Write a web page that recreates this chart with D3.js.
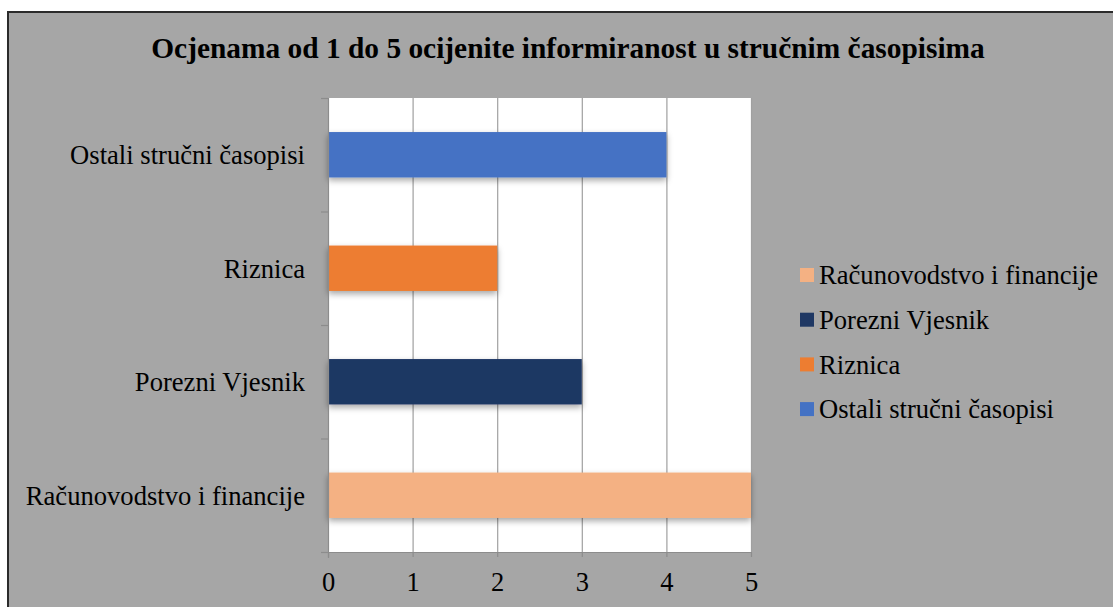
<!DOCTYPE html>
<html><head><meta charset="utf-8">
<script src="https://cdn.jsdelivr.net/npm/d3@7"></script>
<style>html,body{margin:0;padding:0;background:#fff;}svg{display:block;}</style>
</head><body>
<svg id="c" width="1113" height="607"></svg>
<script>
const title = "Ocjenama od 1 do 5 ocijenite informiranost u stručnim časopisima";
const categories = ["Računovodstvo i financije", "Porezni Vjesnik", "Riznica", "Ostali stručni časopisi"];
const values = [5, 3, 2, 4];
const colors = ["#F4B183", "#1F3864", "#ED7D31", "#4472C4"];
const xTicks = [0, 1, 2, 3, 4, 5];

const svg = d3.select("#c");
const font = "'Liberation Serif','Times New Roman',serif";

svg.append("rect").attr("x", 8).attr("y", 12).attr("width", 1120).attr("height", 600)
  .attr("fill", "#A6A6A6").attr("stroke", "#2b2b2b").attr("stroke-width", 2);

const defs = svg.append("defs");
const f = defs.append("filter").attr("id", "sh").attr("x", "-10%").attr("y", "-30%").attr("width", "130%").attr("height", "180%");
f.append("feDropShadow").attr("dx", 0).attr("dy", 3).attr("stdDeviation", 3).attr("flood-color", "#000").attr("flood-opacity", 0.35);

const m = {left: 328, top: 98, right: 751, bottom: 552};
const x = d3.scaleLinear().domain([0, 5]).range([m.left, m.right]);
const y = d3.scaleBand().domain(categories.slice().reverse()).range([m.top, m.bottom]).paddingInner(0.6).paddingOuter(0.3);

svg.append("rect").attr("x", m.left).attr("y", m.top).attr("width", m.right - m.left).attr("height", m.bottom - m.top).attr("fill", "#fff");

// grid
svg.append("g").selectAll("line").data(xTicks.slice(1)).join("line")
  .attr("x1", d => x(d) + 0.5).attr("x2", d => x(d) + 0.5).attr("y1", m.top).attr("y2", m.bottom)
  .attr("stroke", "#A0A0A0").attr("stroke-width", 1.2);

// bars
svg.append("g").selectAll("rect").data(categories).join("rect")
  .attr("x", x(0)).attr("y", d => y(d)).attr("height", y.bandwidth())
  .attr("width", (d, i) => x(values[i]) - x(0))
  .attr("fill", (d, i) => colors[i]).attr("filter", "url(#sh)");

// y axis line and ticks
const yb = d3.scaleLinear().domain([0, 4]).range([m.top, m.bottom]);
svg.append("line").attr("x1", m.left + 0.5).attr("x2", m.left + 0.5).attr("y1", m.top).attr("y2", m.bottom + 6).attr("stroke", "#8c8c8c").attr("stroke-width", 1.2);
svg.append("g").selectAll("line").data(d3.range(5)).join("line")
  .attr("x1", m.left - 7).attr("x2", m.left).attr("y1", d => yb(d) + 0.5).attr("y2", d => yb(d) + 0.5)
  .attr("stroke", "#8c8c8c").attr("stroke-width", 1.2);

// x axis
const xa = svg.append("g").attr("transform", `translate(0,${m.bottom})`)
  .call(d3.axisBottom(x).tickValues(xTicks).tickFormat(d3.format("d")).tickSize(5).tickSizeOuter(0).tickPadding(15));
xa.select(".domain").attr("stroke", "#8c8c8c").attr("stroke-width", 1.2);
xa.selectAll(".tick line").attr("stroke", "#8c8c8c").attr("stroke-width", 1.2);
xa.selectAll("text").attr("font-family", font).attr("font-size", 26.5).attr("fill", "#000");

// category labels
svg.append("g").selectAll("text").data(categories).join("text")
  .attr("x", 305).attr("y", d => y(d) + y.bandwidth() / 2).attr("dy", "0.35em")
  .attr("text-anchor", "end").attr("font-family", font).attr("font-size", 26.6).attr("fill", "#000")
  .text(d => d);

// title
svg.append("text").attr("x", 568).attr("y", 58).attr("text-anchor", "middle")
  .attr("font-family", font).attr("font-weight", "bold").attr("font-size", 29.4).attr("fill", "#000").text(title);

// legend
const lg = svg.append("g").selectAll("g").data(categories).join("g")
  .attr("transform", (d, i) => `translate(800,${275 + i * 44.7})`);
lg.append("rect").attr("x", 0).attr("y", -7).attr("width", 14).attr("height", 14).attr("fill", (d, i) => colors[i]);
lg.append("text").attr("x", 19).attr("dy", "0.35em").attr("font-family", font).attr("font-size", 26.6).attr("fill", "#000").text(d => d);
</script>
</body></html>
